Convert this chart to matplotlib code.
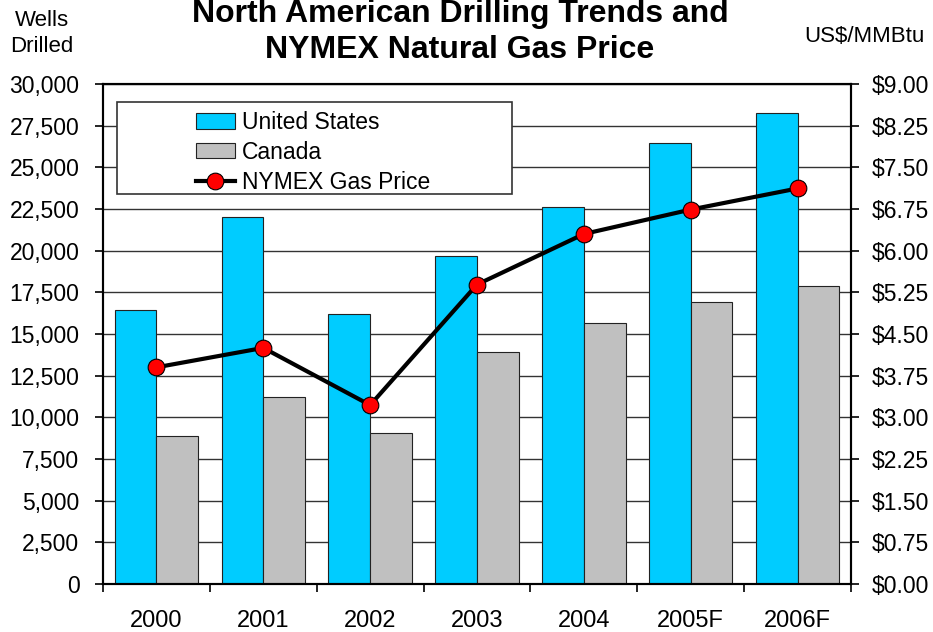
import matplotlib
matplotlib.use("Agg")
import matplotlib.pyplot as plt
from matplotlib.patches import Rectangle
from matplotlib.ticker import FuncFormatter, MultipleLocator, FixedLocator
import numpy as np

plt.rcParams['font.family'] = ['Liberation Sans', 'DejaVu Sans']

years = ["2000", "2001", "2002", "2003", "2004", "2005F", "2006F"]
us_wells = [16450, 22050, 16200, 19700, 22650, 26450, 28250]
canada_wells = [8900, 11200, 9050, 13900, 15650, 16900, 17900]
gas_price = [3.90, 4.25, 3.22, 5.39, 6.30, 6.74, 7.12]

W, H = 933, 632
fig = plt.figure(figsize=(W / 100, H / 100), dpi=100)
ax = fig.add_axes([103 / W, 1 - 584 / H, 748 / W, 500 / H])

x = np.arange(len(years))
bw = 0.39
fs = 16.5

ax.set_axisbelow(True)
ax.yaxis.grid(True, color='#333333', linewidth=1.0)
b1 = ax.bar(x - bw / 2, us_wells, bw, color='#00CCFF', edgecolor='#222222', linewidth=0.8, label='United States', zorder=2)
b2 = ax.bar(x + bw / 2, canada_wells, bw, color='#C0C0C0', edgecolor='#222222', linewidth=0.8, label='Canada', zorder=2)

ax.set_xlim(-0.5, len(years) - 0.5)
ax.set_ylim(0, 30000)
ax.yaxis.set_major_locator(MultipleLocator(2500))
ax.yaxis.set_major_formatter(FuncFormatter(lambda v, p: f"{int(v):,}"))
ax.xaxis.set_major_locator(FixedLocator(np.arange(-0.5, len(years), 1.0)))
ax.xaxis.set_major_formatter(FuncFormatter(lambda v, p: ""))
ax.xaxis.set_minor_locator(FixedLocator(x))
ax.set_xticks(x, years, minor=True)
ax.tick_params(axis='x', which='major', direction='out', length=6, width=1.2, color='black')
ax.tick_params(axis='x', which='minor', length=0, pad=19, labelsize=fs + 0.5)
ax.tick_params(axis='y', direction='out', length=6, width=1.2, pad=11, labelsize=fs)
for s in ax.spines.values():
    s.set_linewidth(1.5)
    s.set_color('black')

ax2 = ax.twinx()
ax2.set_ylim(0, 9)
ax2.yaxis.set_major_locator(MultipleLocator(0.75))
ax2.yaxis.set_major_formatter(FuncFormatter(lambda v, p: f"${v:.2f}"))
ax2.tick_params(axis='y', direction='out', length=6, width=1.2, pad=9, labelsize=fs)
for s in ax2.spines.values():
    s.set_linewidth(1.5)
ln, = ax2.plot(x, gas_price, color='black', linewidth=3, marker='o', markersize=12,
               markerfacecolor='#FF0000', markeredgecolor='black', markeredgewidth=0.8,
               label='NYMEX Gas Price', zorder=3)

# legend frame
ax2.add_patch(Rectangle((0.0187, 0.78), 0.528, 0.184, transform=ax2.transAxes,
                        facecolor='white', edgecolor='#333333', linewidth=1.2, zorder=4))
leg = ax2.legend([b1, b2, ln], ['United States', 'Canada', 'NYMEX Gas Price'],
                 loc='upper left', bbox_to_anchor=(0.124, 0.946), frameon=False,
                 fontsize=fs, handlelength=1.7, handleheight=0.65, handletextpad=0.3,
                 labelspacing=0.3, borderpad=0, borderaxespad=0)
leg.set_zorder(5)

fig.text(460 / W, 1 - 14 / H, "North American Drilling Trends and", ha='center', va='center',
         fontsize=23, fontweight='bold')
fig.text(460 / W, 1 - 50 / H, "NYMEX Natural Gas Price", ha='center', va='center',
         fontsize=23, fontweight='bold')
fig.text(42 / W, 1 - 20 / H, "Wells", ha='center', va='center', fontsize=fs - 0.5)
fig.text(42 / W, 1 - 47 / H, "Drilled", ha='center', va='center', fontsize=fs - 0.5)
fig.text(864 / W, 1 - 37 / H, "US$/MMBtu", ha='center', va='center', fontsize=fs - 0.5)

fig.savefig("out.png", dpi=100)
